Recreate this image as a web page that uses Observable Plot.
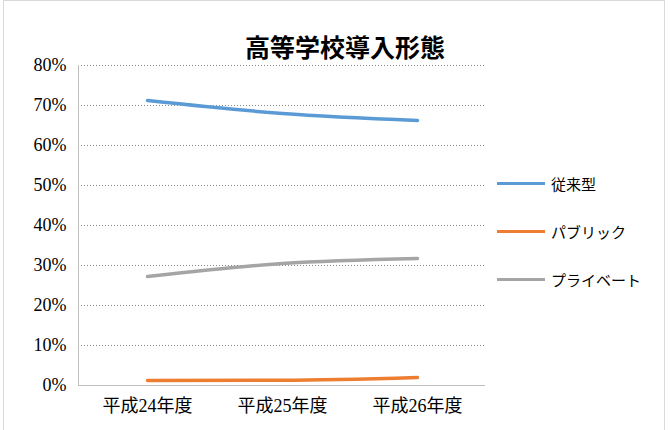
<!DOCTYPE html>
<html><head><meta charset="utf-8">
<script src="https://cdn.jsdelivr.net/npm/d3@7"></script>
<script src="https://cdn.jsdelivr.net/npm/@observablehq/plot@0.6"></script>
<style>
body{margin:0;background:#fff;}
#wrap{position:relative;width:670px;height:430px;font-family:"Liberation Serif","Noto Sans CJK JP",serif;}
#frame{position:absolute;left:3px;top:0;width:662px;height:440px;border:1px solid #d9d9d9;box-sizing:border-box;}
#title{position:absolute;left:0;width:690px;top:28px;text-align:center;font-size:25px;font-weight:bold;font-family:"Noto Sans CJK JP",serif;}
.lg{position:absolute;left:497px;font-size:15px;font-family:"Noto Sans CJK JP",sans-serif;display:flex;align-items:center;}
.lg span{display:inline-block;width:48px;height:3px;margin-right:6px;}
#chart svg text{font-family:"Liberation Serif","Noto Sans CJK JP",serif !important;font-size:18px;}
</style></head><body>
<div id="wrap"><div id="frame"></div><div id="title">高等学校導入形態</div><div id="chart"></div></div>
<script>
const years = ["平成24年度", "平成25年度", "平成26年度"];
const seriesNames = ["従来型", "パブリック", "プライベート"];
const colors = ["#5b9bd5", "#ed7d31", "#a5a5a5"];
const jurai = [0.7125, 0.68, 0.6625];
const public_ = [0.0125, 0.013, 0.02];
const private_ = [0.2725, 0.305, 0.3175];
const vals = [jurai, public_, private_];
const data = seriesNames.flatMap((s, i) => years.map((y, j) => ({series: s, year: y, value: vals[i][j]})));

const chart = Plot.plot({
  width: 670, height: 430,
  marginLeft: 78, marginRight: 185, marginTop: 65, marginBottom: 45,
  style: {fontSize: "18px", color: "#000", background: "transparent"},
  x: {type: "point", domain: years, padding: 0.5, label: null, tickSize: 0, tickPadding: 14},
  y: {domain: [0, 0.8], ticks: d3.range(0, 0.81, 0.1), tickFormat: d => Math.round(d * 100) + "%", label: null, tickSize: 0, tickPadding: 12},
  color: {domain: seriesNames, range: colors},
  marks: [
    Plot.ruleY(d3.range(0.1, 0.81, 0.1), {stroke: "#888", strokeDasharray: "1,2", strokeOpacity: 1}),
    Plot.ruleY([0], {stroke: "#bfbfbf"}),
    Plot.frame({anchor: "left", stroke: "#bfbfbf"}),
    Plot.line(data, {x: "year", y: "value", z: "series", stroke: "series", strokeWidth: 3.5, curve: "monotone-x"})
  ]
});
document.getElementById("chart").append(chart);
const wrap = document.getElementById("wrap");
const tops = [184, 232, 280];
seriesNames.forEach((s, i) => {
  const d = document.createElement("div");
  d.className = "lg";
  d.style.top = (tops[i] - 11) + "px";
  d.innerHTML = `<span style="background:${colors[i]}"></span>${s}`;
  wrap.append(d);
});
</script></body></html>
